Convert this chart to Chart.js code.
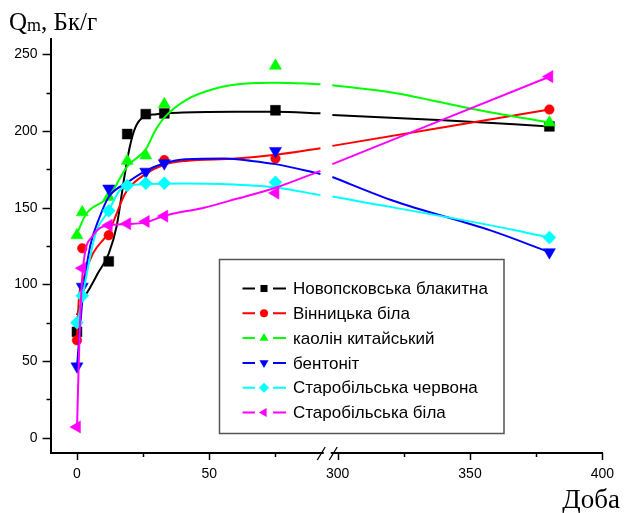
<!DOCTYPE html>
<html><head><meta charset="utf-8">
<script src="https://cdn.jsdelivr.net/npm/chart.js@4.4.1/dist/chart.umd.min.js"></script>
<style>html,body{margin:0;padding:0;background:#fff}canvas{display:block}</style>
</head><body>
<canvas id="c" width="627" height="513"></canvas>
<script>
// ---- data ----
const days = [0, 2, 12, 19, 26, 33, 75, 380];
const seriesNames = ['Новопсковська блакитна', 'Вінницька біла', 'каолін китайський', 'бентоніт', 'Старобільська червона', 'Старобільська біла'];
const novopskovska = [69, null, 115, 198, 211, 211.5, 213.5, 203];
const vinnytska = [63.5, 123.5, 132, null, null, 181, 182, 214];
const kaolin = [132, 147, 157, 180.5, 184, 217.5, 242.5, 205.5];
const bentonit = [46.5, 98.5, 162.5, null, 173.5, 179, 187, 121];
const starChervona = [75, 92.5, 148, 164.5, 166, 166, 166.5, 130.5];
const starBila = [7, 110.5, 138.5, 139.5, 141, 144.5, 159.5, 235.5];

// fitted curves
const curveNovDays = [0, 2, 5, 8, 12, 15, 18, 20, 22, 25, 30, 40, 60, 75, 92, 298, 340, 380];
const curveNovVals = [80, 89, 98, 107.5, 120, 138, 171, 190, 202, 209, 211, 212, 212.5, 212.5, 211.5, 210.5, 207, 203];
const curveVinDays = [0, 0.7, 2.3, 6, 12, 18.5, 26, 33, 41, 60, 75, 92, 298, 380];
const curveVinVals = [64, 90, 103, 120, 134, 160, 172, 178, 180.5, 182, 184.5, 188.8, 190.3, 214];
const curveKaoDays = [0, 3.5, 12, 19, 26, 29.5, 33, 41, 53, 64, 75, 92, 298, 321, 352, 380];
const curveKaoVals = [133, 146, 157, 177, 188, 200, 208.7, 220, 228, 231, 231.5, 230.5, 229.8, 225, 214, 205.5];
const curveBenDays = [0, 1, 2.5, 5, 8.5, 12, 19, 26, 33, 41, 56, 66, 75, 92, 298, 321, 358, 380];
const curveBenVals = [46, 68, 98, 125, 143.6, 157, 166.4, 174, 179, 181.6, 182, 180.5, 178.4, 172, 170, 154.5, 135, 121];
const curveChDays = [0, 2.5, 7, 12, 16, 19, 26, 41, 55, 75, 92, 298, 368, 380];
const curveChVals = [73, 96, 132.8, 148, 161, 164.3, 165.4, 165.8, 165.4, 163.2, 158.2, 157.3, 135, 130.4];
const curveBilDays = [0, 1, 2.3, 6, 11, 19, 26, 33, 48, 60, 75, 92, 298, 380];
const curveBilVals = [5, 68, 111, 131.7, 138.2, 139.3, 140.4, 144.7, 150, 155.6, 163, 174, 178.4, 235.4];

const xTickDays = [0, 25, 50, 75, 300, 325, 350, 375, 400];
const xTickLabels = ['0', '', '50', '', '300', '', '350', '', '400'];
const yTickValues = [0, 25, 50, 75, 100, 125, 150, 175, 200, 225, 250];
const yTickLabels = ['0', '', '50', '', '100', '', '150', '', '200', '', '250'];

// broken x axis: days above the break are shifted left
const BREAK_FROM = 92.5, BREAK_TO = 297, BREAK_SHIFT = 201.5;
function toDisp(d) { return d > BREAK_FROM ? d - BREAK_SHIFT : d; }

const colors = ['#000000', '#ff0000', '#00ff00', '#0000ff', '#00ffff', '#ff00ff'];
const styles = [
  {pointStyle: 'rect', rotation: 0, radius: 7, legendRadius: 5},
  {pointStyle: 'circle', rotation: 0, radius: 4.8, legendRadius: 4},
  {pointStyle: 'triangle', rotation: 0, radius: 7, legendRadius: 5.2},
  {pointStyle: 'triangle', rotation: 180, radius: 7, legendRadius: 5.2},
  {pointStyle: 'rectRot', rotation: 0, radius: 6.5, legendRadius: 5},
  {pointStyle: 'triangle', rotation: 270, radius: 7, legendRadius: 5.2}
];
const markerSets = [novopskovska, vinnytska, kaolin, bentonit, starChervona, starBila];
const curveSets = [
  [curveNovDays, curveNovVals], [curveVinDays, curveVinVals], [curveKaoDays, curveKaoVals],
  [curveBenDays, curveBenVals], [curveChDays, curveChVals], [curveBilDays, curveBilVals]
];

function markerPoints(vals) {
  const pts = [];
  days.forEach((d, i) => { if (vals[i] !== null) pts.push({x: toDisp(d), y: vals[i]}); });
  return pts;
}
function curvePoints(ds, vs) {
  const pts = [];
  for (let i = 0; i < ds.length; i++) {
    if (i > 0 && ds[i - 1] <= BREAK_FROM && ds[i] > BREAK_FROM) {
      pts.push({x: (BREAK_FROM + toDisp(ds[i])) / 2, y: null});
    }
    pts.push({x: toDisp(ds[i]), y: vs[i]});
  }
  return pts;
}

const datasets = [];
seriesNames.forEach((name, k) => {
  datasets.push({
    label: name + ' fit', data: curvePoints(curveSets[k][0], curveSets[k][1]),
    showLine: true, borderColor: colors[k], borderWidth: 2, pointRadius: 0,
    cubicInterpolationMode: 'monotone', spanGaps: false, fill: false,
    order: 20 - 2 * k
  });
  datasets.push({
    label: name, data: markerPoints(markerSets[k]), showLine: false,
    pointStyle: styles[k].pointStyle, rotation: styles[k].rotation,
    pointRadius: styles[k].radius, pointHoverRadius: styles[k].radius,
    backgroundColor: colors[k], borderColor: colors[k], pointBorderWidth: 0.5,
    order: 19 - 2 * k
  });
});

const decorPlugin = {
  id: 'decor',
  afterDraw(chart) {
    const ctx = chart.ctx, xs = chart.scales.x, ys = chart.scales.y;
    const area = chart.chartArea;
    ctx.save();
    ctx.strokeStyle = '#000'; ctx.lineWidth = 1.5;
    // x ticks
    xTickDays.forEach((d, i) => {
      const px = Math.round(xs.getPixelForValue(toDisp(d))) + 0.5;
      const len = xTickLabels[i] ? 7 : 4;
      ctx.beginPath(); ctx.moveTo(px, area.bottom); ctx.lineTo(px, area.bottom + len); ctx.stroke();
    });
    // y ticks
    yTickValues.forEach((v, i) => {
      const py = Math.round(ys.getPixelForValue(v)) + 0.5;
      const len = yTickLabels[i] ? 8 : 4;
      ctx.beginPath(); ctx.moveTo(area.left, py); ctx.lineTo(area.left - len, py); ctx.stroke();
    });
    // axis break
    const bx = xs.getPixelForValue((BREAK_FROM + toDisp(BREAK_TO)) / 2) + 1.5;
    ctx.fillStyle = '#fff';
    ctx.fillRect(bx - 3.5, area.bottom - 3, 7, 6);
    ctx.lineWidth = 1.3;
    ctx.beginPath();
    ctx.moveTo(bx - 10, area.bottom + 7); ctx.lineTo(bx - 2, area.bottom - 6);
    ctx.moveTo(bx + 2, area.bottom + 7); ctx.lineTo(bx + 10, area.bottom - 6);
    ctx.stroke();

    // legend
    const lx = 219.5, ly = 259.5, lw = 284.5, lh = 174;
    ctx.fillStyle = '#fff';
    ctx.fillRect(lx, ly, lw, lh);
    ctx.strokeStyle = '#555'; ctx.lineWidth = 1.5;
    ctx.strokeRect(lx, ly, lw, lh);
    ctx.font = '17px "Liberation Sans", Arial, sans-serif';
    ctx.textBaseline = 'middle'; ctx.textAlign = 'left';
    seriesNames.forEach((name, k) => {
      const y = 288.5 + k * 24.8;
      ctx.strokeStyle = colors[k]; ctx.fillStyle = colors[k]; ctx.lineWidth = 2;
      ctx.beginPath(); ctx.moveTo(242.5, y); ctx.lineTo(255, y);
      ctx.moveTo(273, y); ctx.lineTo(286, y); ctx.stroke();
      Chart.helpers.drawPoint(ctx, {pointStyle: styles[k].pointStyle, rotation: styles[k].rotation,
        radius: styles[k].legendRadius, borderWidth: 0}, 264, y);
      ctx.fillStyle = '#000';
      ctx.fillText(name, 293, y + 1);
    });

    // axis titles
    ctx.fillStyle = '#000';
    ctx.textBaseline = 'alphabetic';
    ctx.font = '25px "Liberation Serif", "Times New Roman", serif';
    ctx.fillText('Q', 9, 30);
    let qw = ctx.measureText('Q').width;
    ctx.font = '18px "Liberation Serif", "Times New Roman", serif';
    ctx.fillText('m', 9 + qw, 31);
    let mw = ctx.measureText('m').width;
    ctx.font = '25px "Liberation Serif", "Times New Roman", serif';
    ctx.fillText(', Бк/г', 9 + qw + mw, 30);
    ctx.font = '27px "Liberation Serif", "Times New Roman", serif';
    ctx.textAlign = 'right';
    ctx.fillText('Доба', 620, 508);
    ctx.restore();
  }
};

const tickFont = {family: '"Liberation Sans", Arial, sans-serif', size: 14};
new Chart(document.getElementById('c'), {
  type: 'scatter',
  data: {datasets},
  options: {
    responsive: false, animation: false, devicePixelRatio: 1,
    layout: {padding: {top: 39, right: 14, left: 0, bottom: 0}},
    plugins: {legend: {display: false}, tooltip: {enabled: false}, title: {display: false}},
    scales: {
      x: {
        type: 'linear', min: -10, max: 198.5,
        grid: {display: false, drawTicks: false},
        border: {display: true, color: '#000', width: 2},
        afterBuildTicks: (s) => { s.ticks = xTickDays.map(d => ({value: toDisp(d)})); },
        afterFit: (s) => { s.height = 60; },
        ticks: {autoSkip: false, maxRotation: 0, padding: 13, color: '#000', font: tickFont,
          callback: (v, i) => xTickLabels[i]}
      },
      y: {
        type: 'linear', min: -10, max: 260,
        grid: {display: false, drawTicks: false},
        border: {display: true, color: '#000', width: 2},
        afterBuildTicks: (s) => { s.ticks = yTickValues.map(v => ({value: v})); },
        afterFit: (s) => { s.width = 50.5; },
        ticks: {autoSkip: false, padding: 13, color: '#000', font: tickFont,
          callback: (v, i) => yTickLabels[i]}
      }
    }
  },
  plugins: [decorPlugin]
});
</script>
</body></html>
